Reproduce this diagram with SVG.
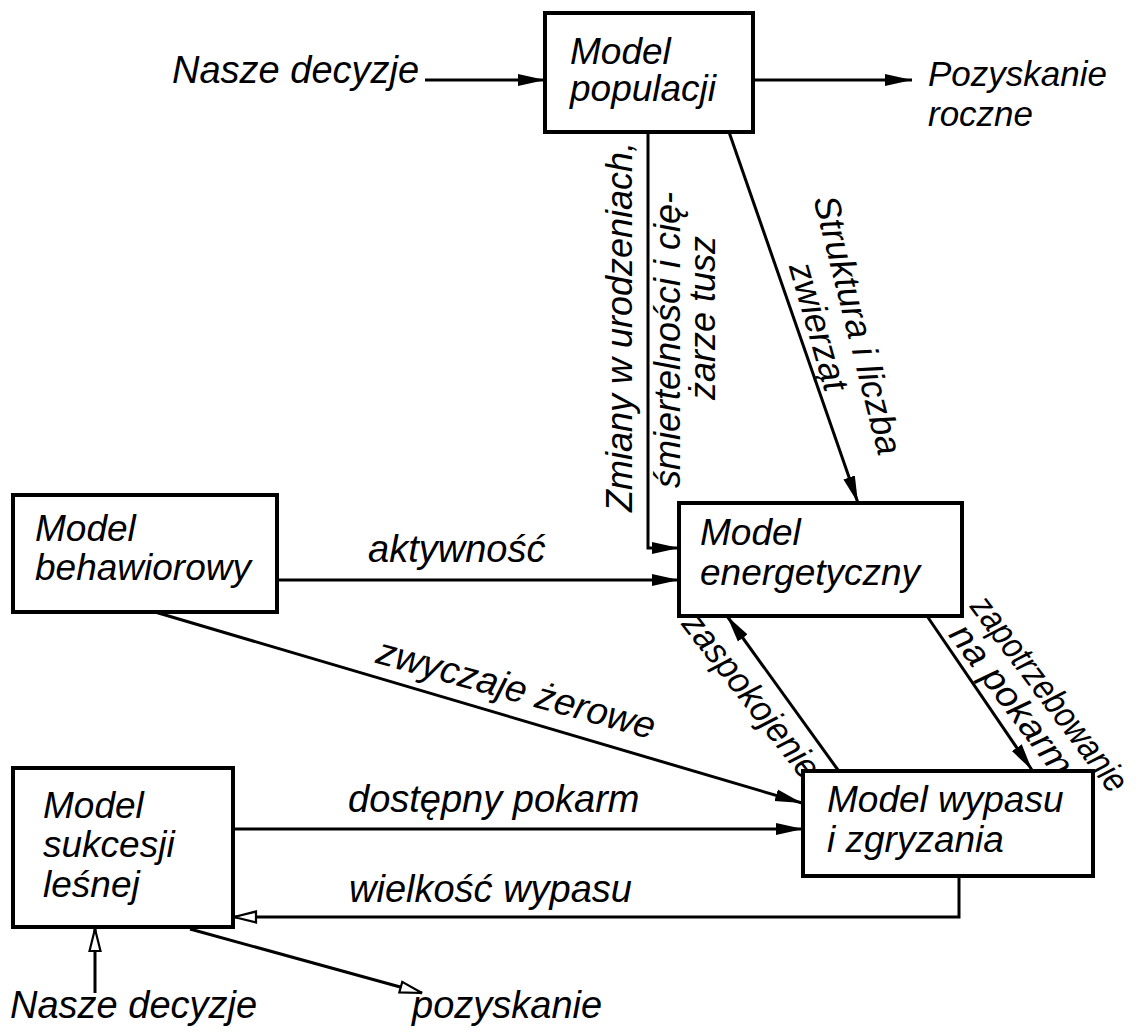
<svg xmlns="http://www.w3.org/2000/svg" width="1146" height="1034" viewBox="0 0 1146 1034">
<style>
.box{fill:#fff;stroke:#000;stroke-width:4}
.ln{fill:none;stroke:#000;stroke-width:3}
text{font-family:"Liberation Sans",Arial,sans-serif;font-style:italic;font-size:38px;fill:#000}
.lbl{font-size:36px}
.nd{font-size:37px}
.out{font-size:35px}
</style>
<defs>
<marker id="ah" markerUnits="userSpaceOnUse" markerWidth="30" markerHeight="14" refX="27" refY="7" orient="auto"><path d="M0,1 L27,7 L0,13 z" fill="#000"/></marker>
<marker id="ho" markerUnits="userSpaceOnUse" markerWidth="28" markerHeight="16" refX="24" refY="8" orient="auto"><path d="M2,2.5 L24,8 L2,13.5 z" fill="#fff" stroke="#000" stroke-width="2.2"/></marker>
</defs>
<rect width="1146" height="1034" fill="#fff"/>

<g id="connectors">
<line class="ln" x1="425" y1="80" x2="545" y2="80" marker-end="url(#ah)"/>
<line class="ln" x1="753" y1="80" x2="912" y2="80" marker-end="url(#ah)"/>
<polyline class="ln" points="648,132 648,548 679,548" marker-end="url(#ah)"/>
<line class="ln" x1="729" y1="132" x2="858" y2="503" marker-end="url(#ah)"/>
<line class="ln" x1="277" y1="580" x2="679" y2="580" marker-end="url(#ah)"/>
<line class="ln" x1="155" y1="612" x2="802" y2="803" marker-end="url(#ah)"/>
<line class="ln" x1="838" y1="770" x2="727" y2="616" marker-end="url(#ah)"/>
<line class="ln" x1="927" y1="616" x2="1032" y2="770" marker-end="url(#ah)"/>
<line class="ln" x1="233" y1="829" x2="803" y2="829" marker-end="url(#ah)"/>
<polyline class="ln" points="959,876 959,917 234,917" marker-end="url(#ho)"/>
<line class="ln" x1="95" y1="993" x2="95" y2="929" marker-end="url(#ho)"/>
<line class="ln" x1="190" y1="929" x2="422" y2="993" marker-end="url(#ho)"/>

<text class="lbl" transform="translate(632,327) rotate(-90)" text-anchor="middle">Zmiany w urodzeniach,</text>
<text class="lbl" transform="translate(680,340) rotate(-90)" text-anchor="middle">śmiertelności i cię-</text>
<text class="lbl" transform="translate(715,318) rotate(-90)" text-anchor="middle">żarze tusz</text>
<text class="lbl" transform="translate(846,328) rotate(75.8)" text-anchor="middle">Struktura i liczba</text>
<text class="lbl" transform="translate(807,330) rotate(74)" text-anchor="middle">zwierząt</text>
<text x="368" y="562">aktywność</text>
<text transform="translate(513,701) rotate(15.5)" text-anchor="middle">zwyczaje żerowe</text>
<text class="lbl" transform="translate(742,703) rotate(52)" text-anchor="middle" textLength="200" lengthAdjust="spacingAndGlyphs">zaspokojenie</text>
<text class="lbl" transform="translate(1040,701) rotate(53)" text-anchor="middle" textLength="236" lengthAdjust="spacingAndGlyphs">zapotrzebowanie</text>
<text class="lbl" transform="translate(1002,707) rotate(53)" text-anchor="middle" textLength="180" lengthAdjust="spacingAndGlyphs">na pokarm</text>
<text x="348" y="812">dostępny pokarm</text>
<text x="349" y="902">wielkość wypasu</text>
</g>

<g id="in-decyzje-top"><text x="172" y="83">Nasze decyzje</text></g>
<g id="out-pozyskanie-roczne"><text class="out" x="928" y="86">Pozyskanie</text><text class="out" x="928" y="126">roczne</text></g>

<g id="model-populacji">
<rect class="box" x="545" y="13" width="208" height="119"/>
<text class="nd" x="570" y="64">Model</text><text class="nd" x="570" y="101">populacji</text>
</g>

<g id="model-behawiorowy">
<rect class="box" x="13" y="495" width="264" height="117"/>
<text class="nd" x="35" y="541">Model</text><text class="nd" x="35" y="580">behawiorowy</text>
</g>

<g id="model-energetyczny">
<rect class="box" x="679" y="503" width="283" height="113"/>
<text class="nd" x="700" y="545">Model</text><text class="nd" x="700" y="585">energetyczny</text>
</g>

<g id="model-sukcesji">
<rect class="box" x="13" y="768" width="220" height="159"/>
<text class="nd" x="43" y="818">Model</text><text class="nd" x="43" y="857">sukcesji</text><text class="nd" x="43" y="897">leśnej</text>
</g>

<g id="model-wypasu">
<rect class="box" x="803" y="771" width="290" height="105"/>
<text class="nd" x="827" y="812">Model wypasu</text><text class="nd" x="827" y="852">i zgryzania</text>
</g>

<g id="in-decyzje-bottom"><text x="10" y="1018">Nasze decyzje</text></g>
<g id="out-pozyskanie"><text x="412" y="1018">pozyskanie</text></g>
</svg>
